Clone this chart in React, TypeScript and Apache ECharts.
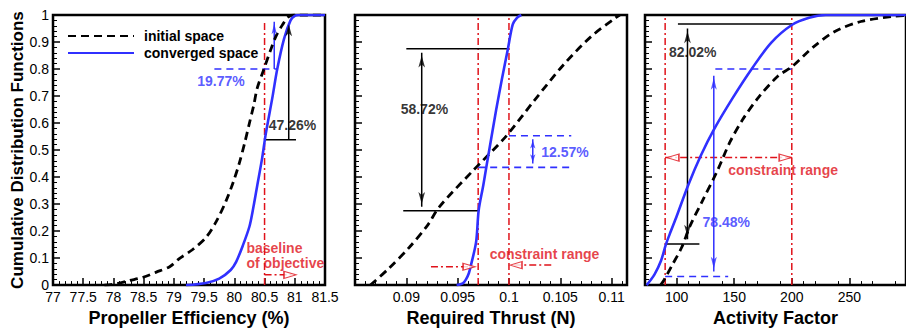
import React, { useEffect, useRef } from 'react';
import * as echarts from 'echarts';

const FONT = 'Liberation Sans, Arial, Helvetica, sans-serif';
const RED = '#e0121a';
const BLUE = '#3030ff';
const BLACK = '#000000';

// ---------- tick labels ----------
const effTicks = [77, 77.5, 78, 78.5, 79, 79.5, 80, 80.5, 81, 81.5];
const thrustTicks = [0.085, 0.09, 0.095, 0.1, 0.105, 0.11];
const thrustLabels = [0.09, 0.095, 0.1, 0.105, 0.11];
const afTicks = [100, 150, 200, 250];

// ---------- series values ----------
// Panel 1: propeller efficiency
const effInitial = [
  [77.85, 0], [78.05, 0.005], [78.27, 0.017], [78.49, 0.029], [78.71, 0.048], [78.93, 0.068],
  [79.09, 0.098], [79.3, 0.13], [79.53, 0.176], [79.7, 0.235], [79.86, 0.31], [79.98, 0.38],
  [80.08, 0.45], [80.17, 0.525], [80.25, 0.6], [80.32, 0.665], [80.38, 0.73], [80.49, 0.8],
  [80.6, 0.87], [80.69, 0.922], [80.8, 0.965], [80.9, 0.994], [81.0, 1.0], [81.5, 1.0],
];
const effConverged = [
  [79.2, 0], [79.53, 0.008], [79.75, 0.024], [79.94, 0.056], [80.03, 0.086], [80.14, 0.146],
  [80.25, 0.217], [80.3, 0.27], [80.38, 0.37], [80.46, 0.47], [80.52, 0.56], [80.63, 0.695],
  [80.71, 0.8], [80.82, 0.91], [80.93, 0.98], [81.0, 0.997], [81.07, 1.0], [81.5, 1.0],
];
// Panel 2: required thrust
const thrustInitial = [
  [0.0865, 0], [0.0883, 0.062], [0.0903, 0.14], [0.0921, 0.223], [0.0932, 0.289], [0.0964, 0.42],
  [0.0996, 0.546], [0.1025, 0.685], [0.1053, 0.815], [0.108, 0.92], [0.1104, 0.99], [0.1108, 1.0],
];
const thrustConverged = [
  [0.0949, 0], [0.0955, 0.006], [0.0958, 0.02], [0.0961, 0.045], [0.0963, 0.074], [0.0968, 0.16],
  [0.09705, 0.277], [0.0975, 0.37], [0.0978, 0.438], [0.09875, 0.648], [0.0993, 0.76],
  [0.0999, 0.875], [0.10037, 0.965], [0.1008, 0.99], [0.1012, 1.0],
];
// Panel 3: activity factor
const afInitial = [
  [86, 0], [89.2, 0.02], [96.1, 0.074], [104.4, 0.14], [111.4, 0.217], [122.5, 0.313], [135, 0.42],
  [146.1, 0.528], [157.2, 0.612], [171.1, 0.695], [187.8, 0.773], [200.3, 0.809], [218.3, 0.88],
  [237.8, 0.94], [260, 0.976], [287.8, 0.995], [299, 0.998],
];
const afConverged = [
  [73.9, 0], [80.8, 0.04], [86.4, 0.09], [90.6, 0.15], [95, 0.2], [100, 0.255], [110, 0.37],
  [121, 0.48], [132.2, 0.575], [149, 0.695], [165.6, 0.803], [182.2, 0.898], [200.3, 0.964],
  [215, 0.99], [229.4, 1.0], [299, 1.0],
];

// ---------- annotation values ----------
const effBaseline = 80.5;
const thrustRange = [0.097, 0.1];
const afRange = [90, 200];

function minorList(start: number, step: number, count: number, every: number, digits: number) {
  const out: number[] = [];
  for (let i = 0; i <= count; i++) {
    if (i % every !== 0) out.push(+(start + i * step).toFixed(digits));
  }
  return out;
}
const effMinor = minorList(77, 0.1, 45, 5, 2);
const thrustMinor = minorList(0.085, 0.001, 26, 5, 4);
const afMinor = minorList(80, 10, 21, 5, 0).filter((v) => v % 50 !== 0);

function seg(g: number, pts: number[][], color: string, width = 1.5, type: any = 'solid', z = 2) {
  return {
    type: 'line', xAxisIndex: g, yAxisIndex: g, data: pts, symbol: 'none', silent: true, z,
    lineStyle: { color, width, type }, clip: true,
  };
}

function head(g: number, x: number, y: number, dir: string, color: string, w: number, h: number, open = false) {
  const rot: any = { up: 0, down: 180, left: 90, right: -90 };
  const off: any = { up: [0, h / 2], down: [0, -h / 2], left: [h / 2, 0], right: [-h / 2, 0] };
  return {
    type: 'scatter', xAxisIndex: g, yAxisIndex: g, data: [[x, y]],
    symbol: open ? 'triangle' : 'arrow', symbolSize: [w, h], symbolRotate: rot[dir], symbolOffset: off[dir],
    silent: true, z: 5, clip: false,
    itemStyle: open ? { color: '#ffffff', borderColor: color, borderWidth: 1.3 } : { color },
  };
}

function txt(g: number, x: number, y: number, text: string, color: string, align = 'left', size = 14, lh = 15) {
  return {
    type: 'scatter', xAxisIndex: g, yAxisIndex: g, data: [[x, y]], symbolSize: 1,
    itemStyle: { color: 'rgba(0,0,0,0)' }, silent: true, z: 6, clip: false,
    label: {
      show: true, position: 'inside', formatter: text, color, fontWeight: 'bold', fontSize: size,
      fontFamily: FONT, align, verticalAlign: 'middle', lineHeight: lh,
    },
  };
}

const DASH = [8, 5];
const DASHDOT = [7, 3, 2, 3];
const BDASH = [7, 5];

export default function App() {
  const ref = useRef<HTMLDivElement>(null);
  useEffect(() => {
    document.body.style.margin = '0';
    const chart = echarts.init(ref.current!, null, { renderer: 'svg' });
    const gridBase = { top: 15, height: 279, width: 272, show: true, borderColor: '#000', borderWidth: 2.5, backgroundColor: 'transparent' };
    const lab = { fontSize: 14, color: '#000', fontFamily: FONT, margin: 5 };
    const nameStyleX = { fontSize: 18, fontWeight: 'bold', color: '#000', fontFamily: FONT };
    const nameStyleY = { fontSize: 17, fontWeight: 'bold', color: '#000', fontFamily: FONT };
    const mainX = (g: number, min: number, max: number, ticks: number[], labels: number[], name: string) => ({
      gridIndex: g, type: 'value', min, max, position: 'bottom', name, nameLocation: 'middle', nameGap: 22,
      nameTextStyle: nameStyleX,
      axisLine: { show: false }, splitLine: { show: false },
      axisTick: { show: true, inside: true, length: 7, customValues: ticks, lineStyle: { color: '#000', width: 1.5 } },
      axisLabel: { ...lab, customValues: labels, formatter: (v: number) => String(+v.toFixed(4)) },
    });
    const minorX = (g: number, min: number, max: number, ticks: number[]) => ({
      gridIndex: g, type: 'value', min, max, position: 'bottom',
      axisLine: { show: false }, splitLine: { show: false }, axisLabel: { show: false },
      axisTick: { show: true, inside: true, length: 4, customValues: ticks, lineStyle: { color: '#000', width: 1 } },
    });
    const yAx = (g: number, showLabel: boolean) => ({
      gridIndex: g, type: 'value', min: 0, max: 1, interval: 0.1, position: 'left',
      name: showLabel ? 'Cumulative Distribution Functions' : '', nameLocation: 'middle', nameGap: 25,
      nameTextStyle: nameStyleY,
      axisLine: { show: false }, splitLine: { show: false },
      axisTick: { show: true, inside: true, length: 7, lineStyle: { color: '#000', width: 1.5 } },
      minorTick: { show: true, splitNumber: 5, length: 4, lineStyle: { color: '#000', width: 1 } },
      axisLabel: { ...lab, show: showLabel, margin: 4 },
    });

    const curve = (g: number, name: string, data: number[][], dashed: boolean) => ({
      type: 'line', name, xAxisIndex: g, yAxisIndex: g, data, symbol: 'none', showSymbol: false,
      silent: true, z: 3, smooth: 0.3,
      lineStyle: dashed ? { color: BLACK, width: 2.8, type: DASH } : { color: BLUE, width: 2.6 },
      itemStyle: { color: dashed ? BLACK : BLUE },
    });

    const series: any[] = [
      curve(0, 'initial space', effInitial, true),
      curve(0, 'converged space', effConverged, false),
      curve(1, 'initial space', thrustInitial, true),
      curve(1, 'converged space', thrustConverged, false),
      curve(2, 'initial space', afInitial, true),
      curve(2, 'converged space', afConverged, false),

      // ---- Panel 1 annotations ----
      seg(0, [[effBaseline, 0], [effBaseline, 0.97]], RED, 1.5, DASHDOT),
      seg(0, [[79.67, 0.8], [80.71, 0.8]], BLUE, 1.6, BDASH),
      seg(0, [[80.66, 0.8], [80.66, 0.975]], BLUE, 1.5),
      head(0, 80.66, 0.99, 'up', BLUE, 4, 11),
      seg(0, [[effBaseline, 0.538], [81.02, 0.538]], BLACK, 1.5),
      seg(0, [[80.9, 0.538], [80.9, 0.97]], BLACK, 1.5),
      head(0, 80.9, 0.988, 'up', BLACK, 5, 12),
      seg(0, [[effBaseline, 0.038], [81.0, 0.038]], RED, 1.5, DASHDOT),
      head(0, 81.02, 0.038, 'right', RED, 7, 12, true),
      txt(0, 79.78, 0.755, '19.77%', BLUE, 'center'),
      txt(0, 80.57, 0.594, '47.26%', BLACK, 'left'),
      txt(0, 80.2, 0.108, 'baseline\nof objective', RED, 'left', 14, 15),

      // ---- Panel 2 annotations ----
      seg(1, [[thrustRange[0], 0], [thrustRange[0], 1]], RED, 1.5, DASHDOT),
      seg(1, [[thrustRange[1], 0], [thrustRange[1], 1]], RED, 1.5, DASHDOT),
      seg(1, [[0.09, 0.875], [0.1, 0.875]], BLACK, 1.5),
      seg(1, [[0.0897, 0.275], [0.097, 0.275]], BLACK, 1.5),
      seg(1, [[0.0915, 0.29], [0.0915, 0.86]], BLACK, 1.5),
      head(1, 0.0915, 0.872, 'up', BLACK, 5, 12),
      head(1, 0.0915, 0.278, 'down', BLACK, 5, 12),
      txt(1, 0.09176, 0.653, '58.72%', BLACK, 'center'),
      seg(1, [[0.1, 0.553], [0.10607, 0.553]], BLUE, 1.6, BDASH),
      seg(1, [[0.097, 0.436], [0.10607, 0.436]], BLUE, 1.6, BDASH),
      seg(1, [[0.10232, 0.45], [0.10232, 0.54]], BLUE, 1.5),
      head(1, 0.10232, 0.55, 'up', BLUE, 4, 8),
      head(1, 0.10232, 0.44, 'down', BLUE, 4, 8),
      txt(1, 0.10314, 0.492, '12.57%', BLUE, 'left'),
      txt(1, 0.10346, 0.116, 'constraint range', RED, 'center'),
      seg(1, [[0.0924, 0.068], [0.0965, 0.068]], RED, 1.5, DASHDOT),
      head(1, 0.0967, 0.068, 'right', RED, 7, 12, true),
      seg(1, [[0.10412, 0.074], [0.1003, 0.074]], RED, 1.5, DASHDOT),
      head(1, 0.1001, 0.074, 'left', RED, 7, 12, true),

      // ---- Panel 3 annotations ----
      seg(2, [[afRange[0], 0], [afRange[0], 1]], RED, 1.5, DASHDOT),
      seg(2, [[afRange[1], 0], [afRange[1], 1]], RED, 1.5, DASHDOT),
      seg(2, [[afRange[0], 0.472], [afRange[1], 0.472]], RED, 1.5, DASHDOT),
      head(2, 91.5, 0.472, 'left', RED, 7, 12, true),
      head(2, 199.5, 0.472, 'right', RED, 7, 12, true),
      txt(2, 192.5, 0.427, 'constraint range', RED, 'center'),
      seg(2, [[101.1, 0.967], [200, 0.967]], BLACK, 1.5),
      seg(2, [[afRange[0], 0.152], [119.75, 0.152]], BLACK, 1.5),
      seg(2, [[109.4, 0.17], [109.4, 0.95]], BLACK, 1.5),
      head(2, 109.4, 0.962, 'up', BLACK, 5, 12),
      head(2, 109.4, 0.157, 'down', BLACK, 5, 12),
      txt(2, 93.3, 0.863, '82.02%', BLACK, 'left'),
      seg(2, [[133.6, 0.8], [200, 0.8]], BLUE, 1.6, BDASH),
      seg(2, [[afRange[0], 0.032], [144.75, 0.032]], BLUE, 1.6, BDASH),
      seg(2, [[132.25, 0.05], [132.25, 0.775]], BLUE, 1.5),
      head(2, 132.25, 0.79, 'up', BLUE, 4.5, 12),
      head(2, 132.25, 0.038, 'down', BLUE, 4.5, 12),
      txt(2, 122.5, 0.232, '78.48%', BLUE, 'left'),
    ];

    chart.setOption({
      animation: false,
      textStyle: { fontFamily: FONT },
      legend: {
        show: true, orient: 'vertical', left: 62, top: 24, itemWidth: 66, itemHeight: 14, itemGap: 3,
        selectedMode: false, data: ['initial space', 'converged space'],
        itemStyle: { opacity: 0 },
        textStyle: { fontSize: 14, fontWeight: 'bold', color: '#000', fontFamily: FONT, padding: [0, 0, 0, 5] },
      },
      grid: [
        { ...gridBase, left: 53 },
        { ...gridBase, left: 355 },
        { ...gridBase, left: 645 },
      ],
      xAxis: [
        mainX(0, 77, 81.5, effTicks, effTicks, 'Propeller Efficiency (%)'),
        mainX(1, 0.085, 0.1115, thrustTicks, thrustLabels, 'Required Thrust (N)'),
        mainX(2, 72.5, 299.2, afTicks, afTicks, 'Activity Factor'),
        minorX(0, 77, 81.5, effMinor),
        minorX(1, 0.085, 0.1115, thrustMinor),
        minorX(2, 72.5, 299.2, afMinor),
      ],
      yAxis: [yAx(0, true), yAx(1, false), yAx(2, false)],
      series,
    });
    return () => chart.dispose();
  }, []);
  return <div ref={ref} style={{ width: 906, height: 332 }} />;
}
